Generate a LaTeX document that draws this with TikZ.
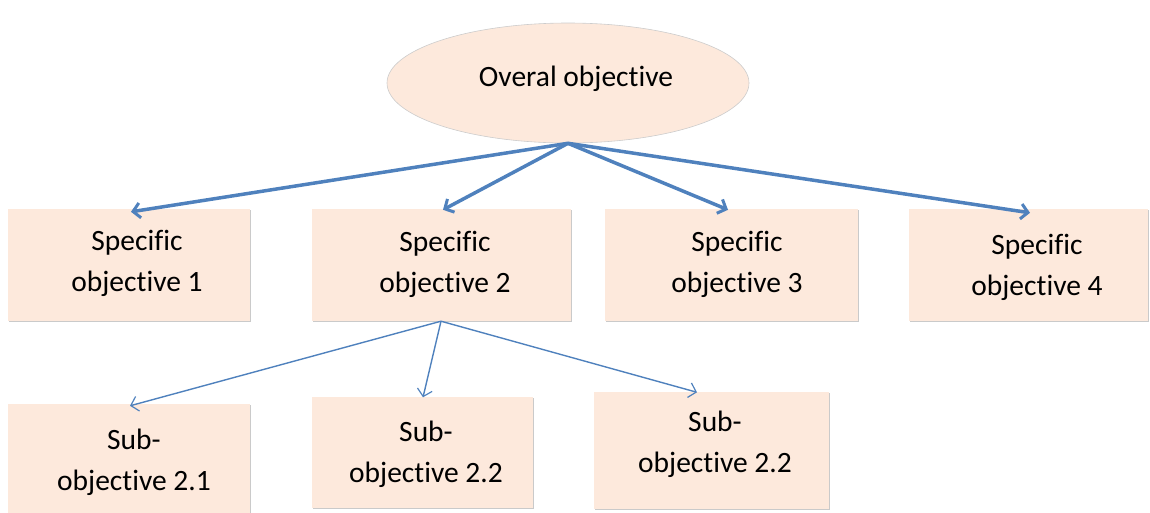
\documentclass[tikz,border=0pt]{standalone}
\usepackage{fontspec}
\setmainfont[Ligatures={NoCommon,NoRare,NoDiscretionary}]{Carlito}
\usetikzlibrary{shapes.geometric,shadows,arrows.meta}
\definecolor{boxfill}{HTML}{FDE9DC}
\definecolor{linkblue}{HTML}{4F81BD}
% two centred lines, nudged right by half of #1
\newcommand{\twoline}[3]{\hspace*{#1}#2\\\hspace*{#1}#3}
\begin{document}
\begin{tikzpicture}[x=1pt,y=-1pt,
  objbox/.style={rectangle,fill=boxfill,draw=none,minimum width=#1,
    align=center,font=\fontsize{29.5}{41}\selectfont,
    drop shadow={shadow xshift=1.2pt,shadow yshift=-1.2pt,fill=black!35,opacity=0.6}},
  main/.style={ellipse,fill=boxfill,draw=black!20,line width=0.6pt,
    minimum width=362pt,minimum height=120pt,text depth=14pt,
    font=\fontsize{29.5}{36}\selectfont},
  thick link/.style={draw=linkblue,line width=3.5pt,-{Straight Barb[length=7pt,width=15pt,line width=3pt]}},
  thin link/.style={draw=linkblue,line width=1.4pt,-{Straight Barb[length=7pt,width=15pt,line width=1.2pt]}}]
\useasboundingbox (0,0) rectangle (1150,512);
\node[main] (top) at (568,83) {\hspace*{16pt}Overal objective};
% specific objectives
\node[objbox=242pt,minimum height=112pt,text depth=9pt] (s1) at (129,265) {\twoline{16pt}{Specific}{objective 1}};
\node[objbox=259pt,minimum height=112pt,text depth=6pt] (s2) at (441,265) {\twoline{8pt}{Specific}{objective 2}};
\node[objbox=253pt,minimum height=112pt,text depth=6pt] (s3) at (731,265) {\twoline{12pt}{Specific}{objective 3}};
\node[objbox=239pt,minimum height=112pt,text depth=-15pt] (s4) at (1028,265) {\twoline{18pt}{Specific}{objective 4}};
% sub-objectives
\node[objbox=242pt,minimum height=112pt,text depth=-9pt] (u1) at (129,460) {\twoline{10pt}{Sub-}{objective 2.1}};
\node[objbox=221pt,minimum height=111pt,text depth=-9pt] (u2) at (422,452) {\twoline{8pt}{Sub-}{objective 2.2}};
\node[objbox=235pt,minimum height=117pt,text depth=16pt] (u3) at (711,450) {\twoline{8pt}{Sub-}{objective 2.2}};
% links
\draw[thick link] (top.south) -- ([xshift=2pt,yshift=-3pt]s1.north);
\draw[thick link] (top.south) -- ([xshift=2pt,yshift=-1pt]s2.north);
\draw[thick link] (top.south) -- ([xshift=-3pt,yshift=-1pt]s3.north);
\draw[thick link] (top.south) -- ([xshift=2pt,yshift=-4pt]s4.north);
\draw[thin link] (s2.south) -- ([xshift=1pt,yshift=-2pt]u1.north);
\draw[thin link] (s2.south) -- ([xshift=1pt,yshift=-1pt]u2.north);
\draw[thin link] (s2.south) -- ([xshift=-14pt,yshift=-1pt]u3.north);
\end{tikzpicture}
\end{document}
